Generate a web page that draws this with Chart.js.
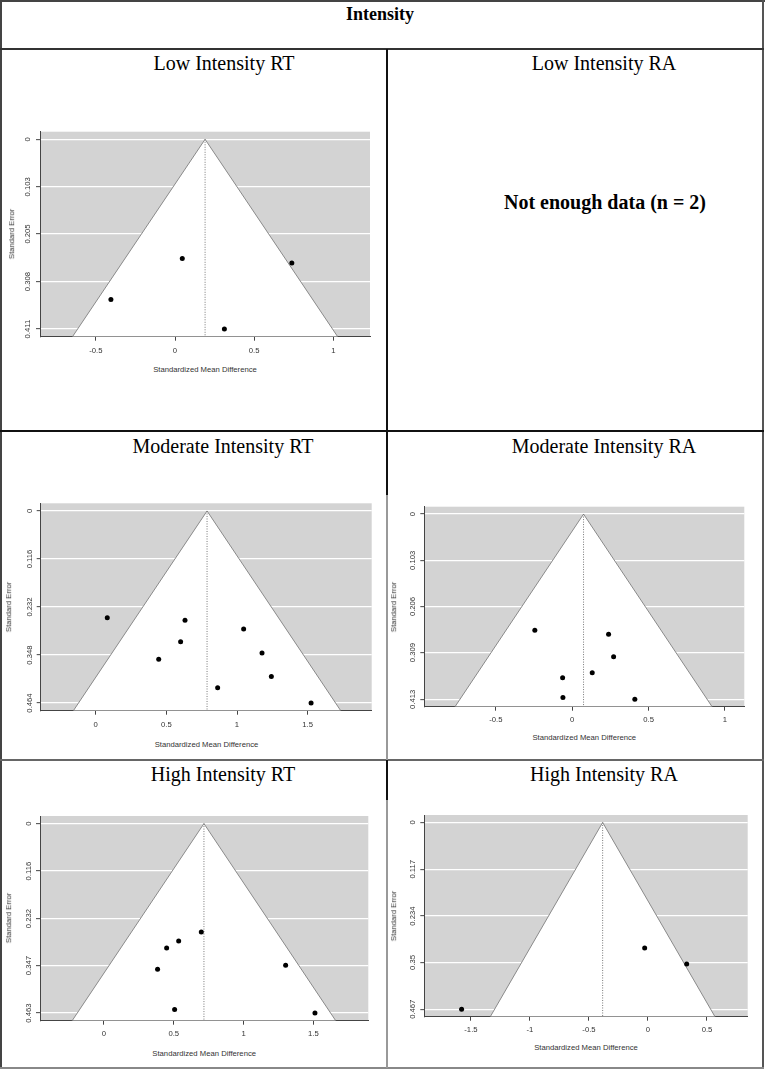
<!DOCTYPE html>
<html><head><meta charset="utf-8">
<script src="https://cdn.jsdelivr.net/npm/chart.js@4.4.0/dist/chart.umd.min.js"></script>
<style>
html,body{margin:0;padding:0;background:#fff;}
body{width:765px;height:1071px;position:relative;overflow:hidden;font-family:"Liberation Serif","Times New Roman",serif;}
.ln{position:absolute;}
.t{position:absolute;transform:translate(-50%,-50%);white-space:nowrap;line-height:1;color:#000;}
.ttl{font-size:20px;}
.ax{font-family:"Liberation Sans",Arial,sans-serif;font-size:7.7px;color:#333;}
.rot{transform:translate(-50%,-50%) rotate(-90deg);}
canvas{position:absolute;}
</style></head>
<body>
<!-- table lines -->
<div class="ln" style="left:0;top:0;width:765px;height:2px;background:#444"></div>
<div class="ln" style="left:0;top:0;width:2px;height:1069px;background:#444"></div>
<div class="ln" style="left:762px;top:0;width:2px;height:1069px;background:#555"></div>
<div class="ln" style="left:0;top:1067px;width:764px;height:2px;background:#888"></div>
<div class="ln" style="left:0;top:48px;width:764px;height:2px;background:#333"></div>
<div class="ln" style="left:0;top:430px;width:764px;height:1.5px;background:#111"></div>
<div class="ln" style="left:0;top:759px;width:764px;height:1.5px;background:#666"></div>
<div class="ln" style="left:386px;top:49px;width:1.5px;height:446px;background:#111"></div>
<div class="ln" style="left:386px;top:495px;width:1.5px;height:265px;background:#999"></div>
<div class="ln" style="left:386px;top:760px;width:1.5px;height:40px;background:#111"></div>
<div class="ln" style="left:386px;top:800px;width:1.5px;height:268px;background:#999"></div>

<div class="t" style="left:380px;top:14px;font-size:18px;font-weight:bold">Intensity</div>
<div class="t ttl" style="left:224px;top:63px">Low Intensity RT</div>
<div class="t ttl" style="left:604px;top:63px">Low Intensity RA</div>
<div class="t" style="left:605px;top:202px;font-size:20px;font-weight:bold">Not enough data (n = 2)</div>
<div class="t ttl" style="left:223px;top:446px">Moderate Intensity RT</div>
<div class="t ttl" style="left:604px;top:446px">Moderate Intensity RA</div>
<div class="t ttl" style="left:223px;top:774px">High Intensity RT</div>
<div class="t ttl" style="left:604px;top:774px">High Intensity RA</div>

<script>
// ---- data ----
const lowRT_smd = [0.046, 0.738, -0.405, 0.312];
const lowRT_se  = [0.258, 0.268, 0.347, 0.411];
const lowRT_estimate = 0.19;
const lowRT_yTicks = ['0','0.103','0.205','0.308','0.411'];
const lowRT_xTicks = [-0.5, 0, 0.5, 1];

const modRT_smd = [0.082, 0.632, 1.047, 0.601, 1.177, 0.446, 1.243, 0.863, 1.524];
const modRT_se  = [0.258, 0.264, 0.285, 0.316, 0.343, 0.358, 0.400, 0.427, 0.464];
const modRT_estimate = 0.788;
const modRT_yTicks = ['0','0.116','0.232','0.348','0.464'];
const modRT_xTicks = [0, 0.5, 1, 1.5];

const modRA_smd = [-0.245, 0.238, 0.271, 0.131, -0.063, -0.061, 0.410];
const modRA_se  = [0.259, 0.268, 0.318, 0.354, 0.365, 0.409, 0.413];
const modRA_estimate = 0.074;
const modRA_yTicks = ['0','0.103','0.206','0.309','0.413'];
const modRA_xTicks = [-0.5, 0, 0.5, 1];

const highRT_smd = [0.697, 0.535, 0.449, 1.301, 0.384, 0.506, 1.511];
const highRT_se  = [0.265, 0.287, 0.304, 0.346, 0.356, 0.454, 0.463];
const highRT_estimate = 0.716;
const highRT_yTicks = ['0','0.116','0.232','0.347','0.463'];
const highRT_xTicks = [0, 0.5, 1, 1.5];

const highRA_smd = [-0.028, 0.328, -1.579];
const highRA_se  = [0.314, 0.354, 0.467];
const highRA_estimate = -0.384;
const highRA_yTicks = ['0','0.117','0.234','0.35','0.467'];
const highRA_xTicks = [-1.5, -1, -0.5, 0, 0.5];

// ---- layout ----
const plots = [
  {smd:lowRT_smd, se:lowRT_se, est:lowRT_estimate, yT:lowRT_yTicks, xT:lowRT_xTicks,
   xMin:-0.853, xMax:1.232, canvas:[4,122,378,240], region:[40,131.7,370,336.7], xPad:5.7, yPad:-1.8,
   yTitle:[12,234], xTitle:[205,369.5]},
  {smd:modRT_smd, se:modRT_se, est:modRT_estimate, yT:modRT_yTicks, xT:modRT_xTicks,
   xMin:-0.389, xMax:1.953, canvas:[4,495,378,240], region:[40.7,503.3,371.7,710.7], xPad:5.7, yPad:-3,
   yTitle:[9,607], xTitle:[206.5,745]},
  {smd:modRA_smd, se:modRA_se, est:modRA_estimate, yT:modRA_yTicks, xT:modRA_xTicks,
   xMin:-0.969, xMax:1.127, canvas:[390,498,370,235], region:[424.3,506.7,744.3,706.7], xPad:4.7, yPad:-2.6,
   yTitle:[393.7,607], xTitle:[584.3,738.3]},
  {smd:highRT_smd, se:highRT_se, est:highRT_estimate, yT:highRT_yTicks, xT:highRT_xTicks,
   xMin:-0.458, xMax:1.893, canvas:[4,808,378,235], region:[40,816,368.3,1020.7], xPad:4.2, yPad:-3,
   yTitle:[9,918], xTitle:[204.2,1054]},
  {smd:highRA_smd, se:highRA_se, est:highRA_estimate, yT:highRA_yTicks, xT:highRA_xTicks,
   xMin:-1.895, xMax:0.845, canvas:[390,806,370,235], region:[424.3,815,747.7,1016.7], xPad:4.7, yPad:-2.6,
   yTitle:[394,916], xTitle:[586,1048.3]}
];

const AXFONT = {family:'"Liberation Sans", Arial, sans-serif', size:7.7};

const bgPlugin = {
  id:'greyBack',
  beforeDraw(chart){
    const a = chart.chartArea, c = chart.ctx;
    c.save(); c.fillStyle = '#d3d3d3';
    c.fillRect(a.left, a.top, a.right - a.left, a.bottom - a.top);
    c.restore();
  }
};

function addText(txt, x, y, rot){
  const d = document.createElement('div');
  d.className = 't ax' + (rot ? ' rot' : '');
  d.style.left = x + 'px'; d.style.top = y + 'px';
  d.textContent = txt;
  document.body.appendChild(d);
}

plots.forEach(p => {
  const [cx, cy, cw, ch] = p.canvas;
  const [l, t, r, b] = p.region;
  const cv = document.createElement('canvas');
  cv.width = cw; cv.height = ch;
  cv.style.left = cx + 'px'; cv.style.top = cy + 'px';
  cv.style.width = cw + 'px'; cv.style.height = ch + 'px';
  document.body.appendChild(cv);

  const yVals = p.yT.map(Number);
  const M = yVals[yVals.length - 1];
  const yMin = -0.04 * M, yMax = 1.04 * M;
  const hw = 1.96 * yMax;

  new Chart(cv, {
    type: 'scatter',
    data: { datasets: [
      { type:'scatter', data: p.smd.map((x, i) => ({x, y: p.se[i]})),
        pointRadius:2.5, pointBackgroundColor:'#000', pointBorderWidth:0, pointHoverRadius:2.5, order:0 },
      { type:'line', data:[{x:p.est, y:0}, {x:p.est, y:yMax}],
        borderColor:'#777', borderWidth:1, borderDash:[1,1.5], pointRadius:0, fill:false, order:1 },
      { type:'line', data:[{x:p.est - hw, y:yMax}, {x:p.est, y:0}, {x:p.est + hw, y:yMax}],
        borderColor:'#8a8a8a', borderWidth:1, pointRadius:0, tension:0,
        fill:{value:yMax}, backgroundColor:'#ffffff', order:2 }
    ]},
    options: {
      responsive:false, animation:false, devicePixelRatio:1,
      layout:{ padding:{ left:0, top:t - cy, right:cx + cw - r, bottom:0 } },
      plugins:{ legend:{display:false}, tooltip:{enabled:false} },
      scales:{
        x:{ type:'linear', position:'bottom', min:p.xMin, max:p.xMax,
            afterBuildTicks: s => { s.ticks = p.xT.map(v => ({value:v})); },
            afterFit: s => { s.height = cy + ch - b; },
            grid:{ drawOnChartArea:false, drawTicks:true, tickLength:4, tickColor:'#444', tickWidth:1, lineWidth:1 },
            border:{ display:true, color:'#444', width:1 },
            ticks:{ padding:p.xPad, color:'#333', font:AXFONT, autoSkip:false, minRotation:0, maxRotation:0,
                    callback: v => String(v) } },
        y:{ type:'linear', position:'left', reverse:true, min:yMin, max:yMax,
            afterBuildTicks: s => { s.ticks = yVals.map(v => ({value:v})); },
            afterFit: s => { s.width = l - cx; },
            grid:{ color:'#ffffff', lineWidth:1.3, drawTicks:true, tickLength:4, tickColor:'#444', tickWidth:1 },
            border:{ display:true, color:'#444', width:1 },
            ticks:{ padding:p.yPad, crossAlign:'center', minRotation:90, maxRotation:90, color:'#333',
                    font:AXFONT, autoSkip:false, callback:(v, i) => p.yT[i] } }
      }
    },
    plugins:[bgPlugin]
  });

  addText('Standard Error', p.yTitle[0], p.yTitle[1], true);
  addText('Standardized Mean Difference', p.xTitle[0], p.xTitle[1], false);
});
</script>
</body></html>
